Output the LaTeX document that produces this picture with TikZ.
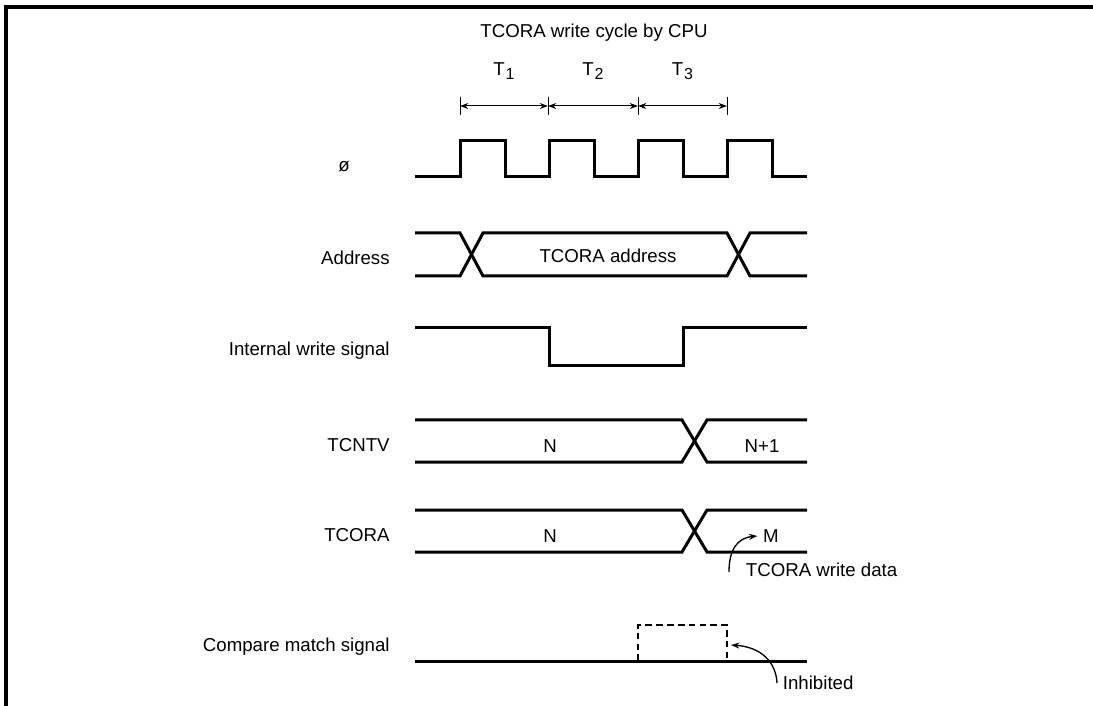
\documentclass[tikz,border=0pt]{standalone}
\usepackage{fontspec}
\setmainfont{Liberation Sans}
\usetikzlibrary{arrows.meta, calc}

% T with a lowered index, as in the clock cycle labels
\newcommand{\Tcyc}[1]{T\kern0.5pt\raisebox{-0.35ex}{\fontsize{9.6}{10}\selectfont #1}}

\begin{document}
\begin{tikzpicture}[x=0.6pt, y=-0.6pt, font=\fontsize{11.2}{13}\selectfont,
    sig/.style={line width=1.8pt, line join=miter},
    dim/.style={line width=0.6pt, {Stealth[length=5pt,width=3.6pt]}-{Stealth[length=5pt,width=3.6pt]}},
    note/.style={line width=0.8pt, -{Stealth[length=5pt,width=3.6pt]}},
    lbl/.style={anchor=east, inner sep=0pt}]

    % Page size and frame
    \useasboundingbox (0,0) rectangle (1093,706);
    \draw[line width=2.4pt] (6,706) -- (6,7) -- (1093,7);

    % Define parameters
    \def\xa{415}  % start of every waveform
    \def\xb{807}  % end of every waveform

    % Title and bus cycle states
    \node (title) at (594,33) {TCORA write cycle by CPU};
    \foreach \x [count=\i from 0] in {460,548,638,727} {
        \coordinate (t\i) at (\x,106);
        \draw[line width=0.6pt] (\x,97) -- (\x,115);
    }
    \draw[dim] (t0) -- (t1);
    \draw[dim] (t1) -- (t2);
    \draw[dim] (t2) -- (t3);
    \node (cyc1) at ($(t0)!0.5!(t1)+(0,-35)$) {\Tcyc{1}};
    \node (cyc2) at ($(t1)!0.5!(t2)+(0,-35)$) {\Tcyc{2}};
    \node (cyc3) at ($(t2)!0.5!(t3)+(0,-35)$) {\Tcyc{3}};

    % Signal names
    \node (lclk) at (344,167) {ø};
    \node[lbl] (laddr) at (390,258) {Address};
    \node[lbl] (lwr) at (390,351) {Internal write signal};
    \node[lbl] (lcnt) at (390,445) {TCNTV};
    \node[lbl] (lcor) at (390,535) {TCORA};
    \node[lbl] (lcmp) at (390,647) {Compare match signal};

    % Clock
    \draw[sig] (\xa,177) foreach \x in {460,549,638,727} {
        -- (\x,177) -- (\x,141) -- (\x+45,141) -- (\x+45,177)} -- (\xb,177);

    % Address bus
    \draw[sig] (\xa,233) -- (460,233) -- (483,276) -- (727,276) -- (750,233) -- (\xb,233);
    \draw[sig] (\xa,276) -- (460,276) -- (483,233) -- (727,233) -- (750,276) -- (\xb,276);
    \node (addr) at (608,256) {TCORA address};

    % Internal write signal
    \draw[sig] (\xa,328) -- (549,328) -- (549,366) -- (683,366) -- (683,328) -- (\xb,328);

    % TCNTV
    \draw[sig] (\xa,420) -- (682,420) -- (707,462) -- (\xb,462);
    \draw[sig] (\xa,462) -- (682,462) -- (707,420) -- (\xb,420);
    \node (cntn) at (550,446) {N};
    \node (cntn1) at (762,446) {N+1};

    % TCORA
    \draw[sig] (\xa,510) -- (682,510) -- (707,552) -- (\xb,552);
    \draw[sig] (\xa,552) -- (682,552) -- (707,510) -- (\xb,510);
    \node (corn) at (550,536) {N};
    \node (corm) at (771,536) {M};
    \node[anchor=west] (wdata) at (740,570) {TCORA write data};
    \coordinate (wtail) at (729,572);
    \draw[note] (wtail) .. controls (729,550) and (737,538) .. (corm.west);

    % Compare match signal
    \draw[sig] (\xa,661) -- (\xb,661);
    \draw[line width=0.8pt, dash pattern=on 4pt off 2.5pt] (638,661) -- (638,625) -- (727,625) -- (727,661);
    \node[anchor=west] (inh) at (777,683) {Inhibited};
    \coordinate (inhtip) at (731,645);
    \draw[note] (inh.west) .. controls (776,662) and (761,647) .. (inhtip);

\end{tikzpicture}
\end{document}
